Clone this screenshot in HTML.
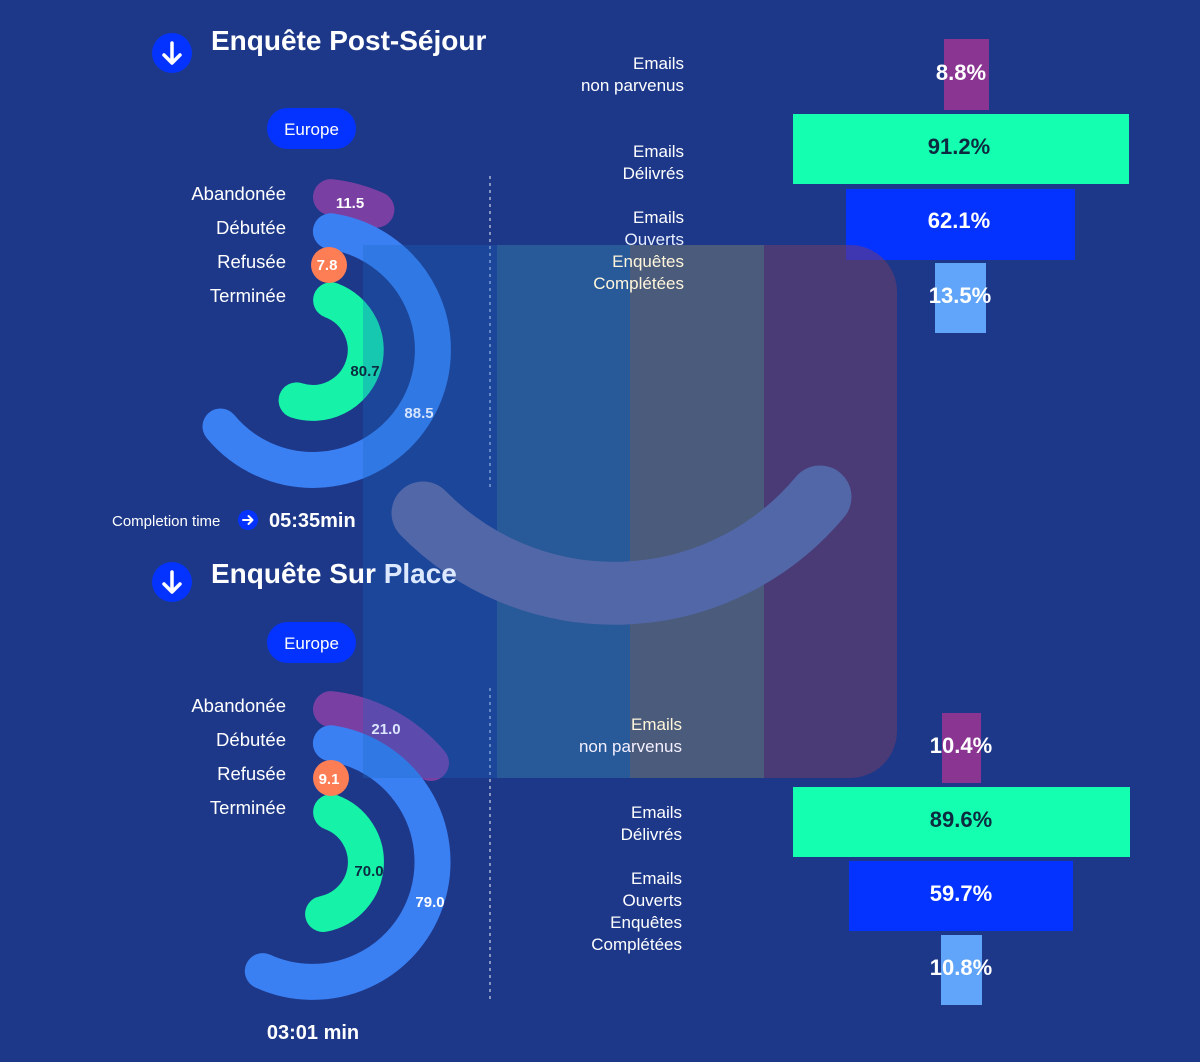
<!DOCTYPE html>
<html><head><meta charset="utf-8"><style>
html,body{margin:0;padding:0;background:#1d3889;}
svg{display:block;}
text{font-family:"Liberation Sans",sans-serif;}
</style></head><body>
<svg width="1200" height="1062" viewBox="0 0 1200 1062" xmlns="http://www.w3.org/2000/svg">
<rect width="1200" height="1062" fill="#1d3889"/>

<line x1="490" y1="176" x2="490" y2="490" stroke="#aab4d6" stroke-width="1.5" stroke-dasharray="3,4"/>
<line x1="490" y1="688" x2="490" y2="1002" stroke="#aab4d6" stroke-width="1.5" stroke-dasharray="3,4"/>

<g fill="none" stroke-linecap="round" stroke-width="36">
<path d="M331,197.1 A154,154 0 0 1 376.4,209.6" stroke="#7a3fa3"/>
<path d="M330.9,231.3 A120,120 0 1 1 220.5,426.5" stroke="#3b80f3"/>
<path d="M331.1,300.2 A53,53 0 0 1 296.6,400.4" stroke="#16f3a8"/>
</g>
<circle cx="329" cy="265" r="18" fill="#fd7d55"/>

<g fill="none" stroke-linecap="round" stroke-width="36">
<path d="M331,709.1 A154,154 0 0 1 431,763" stroke="#7a3fa3"/>
<path d="M330.9,743.3 A120,120 0 1 1 262.8,971.1" stroke="#3b80f3"/>
<path d="M331.1,812.2 A53,53 0 0 1 323.1,914" stroke="#16f3a8"/>
</g>
<circle cx="331" cy="778" r="18" fill="#fd7d55"/>

<rect x="944" y="39" width="45" height="71" fill="#8a3592"/>
<rect x="793" y="114" width="336" height="70" fill="#14ffb0"/>
<rect x="846" y="189" width="229" height="71" fill="#0433ff"/>
<rect x="935" y="263" width="51" height="70" fill="#60a5fa"/>
<rect x="942" y="713" width="39" height="70" fill="#8a3592"/>
<rect x="793" y="787" width="337" height="70" fill="#14ffb0"/>
<rect x="849" y="861" width="224" height="70" fill="#0433ff"/>
<rect x="941" y="935" width="41" height="70" fill="#60a5fa"/>

<clipPath id="ov"><path d="M363,245 H850 A47,47 0 0 1 897,292 V731 A47,47 0 0 1 850,778 H363 Z"/></clipPath>
<g clip-path="url(#ov)">
<rect x="363" y="245" width="134" height="533" fill="rgba(22,103,194,0.3)"/>
<rect x="497" y="245" width="133" height="533" fill="rgba(55,130,170,0.45)"/>
<rect x="630" y="245" width="134" height="533" fill="rgba(120,126,110,0.5)"/>
<rect x="764" y="245" width="133" height="533" fill="rgba(120,60,100,0.5)"/>
</g>
<path d="M423,513 A268,268 0 0 0 820,497" fill="none" stroke="#5267a7" stroke-width="63" stroke-linecap="round"/>

<g font-size="18.5" fill="#ffffff" text-anchor="end">
<text x="286" y="200">Abandonée</text>
<text x="286" y="234">Débutée</text>
<text x="286" y="268">Refusée</text>
<text x="286" y="302">Terminée</text>
<text x="286" y="712">Abandonée</text>
<text x="286" y="746">Débutée</text>
<text x="286" y="780">Refusée</text>
<text x="286" y="814">Terminée</text>
</g>
<g font-size="15" font-weight="bold" text-anchor="middle">
<text x="350" y="208" fill="#fff">11.5</text>
<text x="327" y="270" fill="#fff">7.8</text>
<text x="365" y="376" fill="#0c2a40">80.7</text>
<text x="419" y="418" fill="#d6e4ff">88.5</text>
<text x="386" y="734" fill="#dde6ff">21.0</text>
<text x="329" y="784" fill="#fff">9.1</text>
<text x="369" y="876" fill="#0c2a40">70.0</text>
<text x="430" y="907" fill="#fff">79.0</text>
</g>

<circle cx="172" cy="53" r="20" fill="#0433ff"/>
<path d="M172,43 V62 M164,55 L172,63 L180,55" stroke="#fff" stroke-width="3.5" fill="none" stroke-linecap="round" stroke-linejoin="round"/>
<text x="211" y="50" font-size="28" font-weight="bold" fill="#fff">Enquête Post-Séjour</text>
<circle cx="172" cy="582" r="20" fill="#0433ff"/>
<path d="M172,572 V591 M164,584 L172,592 L180,584" stroke="#fff" stroke-width="3.5" fill="none" stroke-linecap="round" stroke-linejoin="round"/>
<text x="211" y="583" font-size="28" font-weight="bold" fill="#fff">Enquête Sur <tspan fill="#dce8ff">Place</tspan></text>

<rect x="267" y="108" width="89" height="41" rx="20.5" fill="#0433ff"/>
<text x="311.5" y="135" font-size="17" fill="#fff" text-anchor="middle">Europe</text>
<rect x="267" y="622" width="89" height="41" rx="20.5" fill="#0433ff"/>
<text x="311.5" y="649" font-size="17" fill="#fff" text-anchor="middle">Europe</text>

<text x="112" y="526" font-size="15" fill="#fff">Completion time</text>
<circle cx="248" cy="520" r="10" fill="#0433ff"/>
<path d="M243,520 H252 M248.5,516 L252.5,520 L248.5,524" stroke="#fff" stroke-width="2" fill="none" stroke-linecap="round" stroke-linejoin="round"/>
<text x="269" y="527" font-size="20" font-weight="bold" fill="#fff">05:35min</text>
<text x="313" y="1039" font-size="20" font-weight="bold" fill="#fff" text-anchor="middle">03:01 min</text>

<g font-size="17" fill="#ffffff" text-anchor="end">
<text x="684" y="69">Emails</text>
<text x="684" y="91">non parvenus</text>
<text x="684" y="157">Emails</text>
<text x="684" y="179">Délivrés</text>
<text x="684" y="223">Emails</text>
<text x="684" y="245" fill="#e8eeff">Ouverts</text>
<text x="684" y="267" fill="#fff6dc">Enquêtes</text>
<text x="684" y="289" fill="#fff6dc">Complétées</text>
<text x="682" y="730" fill="#fff6dc">Emails</text>
<text x="682" y="752" fill="#f4f0ff">non parvenus</text>
<text x="682" y="818">Emails</text>
<text x="682" y="840">Délivrés</text>
<text x="682" y="884">Emails</text>
<text x="682" y="906">Ouverts</text>
<text x="682" y="928">Enquêtes</text>
<text x="682" y="950">Complétées</text>
</g>
<g font-size="22" font-weight="bold" text-anchor="middle">
<text x="961" y="80" fill="#fff">8.8%</text>
<text x="959" y="154" fill="#0c2a40">91.2%</text>
<text x="959" y="228" fill="#fff">62.1%</text>
<text x="960" y="303" fill="#fff">13.5%</text>
<text x="961" y="753" fill="#fff">10.4%</text>
<text x="961" y="827" fill="#0c2a40">89.6%</text>
<text x="961" y="901" fill="#fff">59.7%</text>
<text x="961" y="975" fill="#fff">10.8%</text>
</g>
</svg>
</body></html>
